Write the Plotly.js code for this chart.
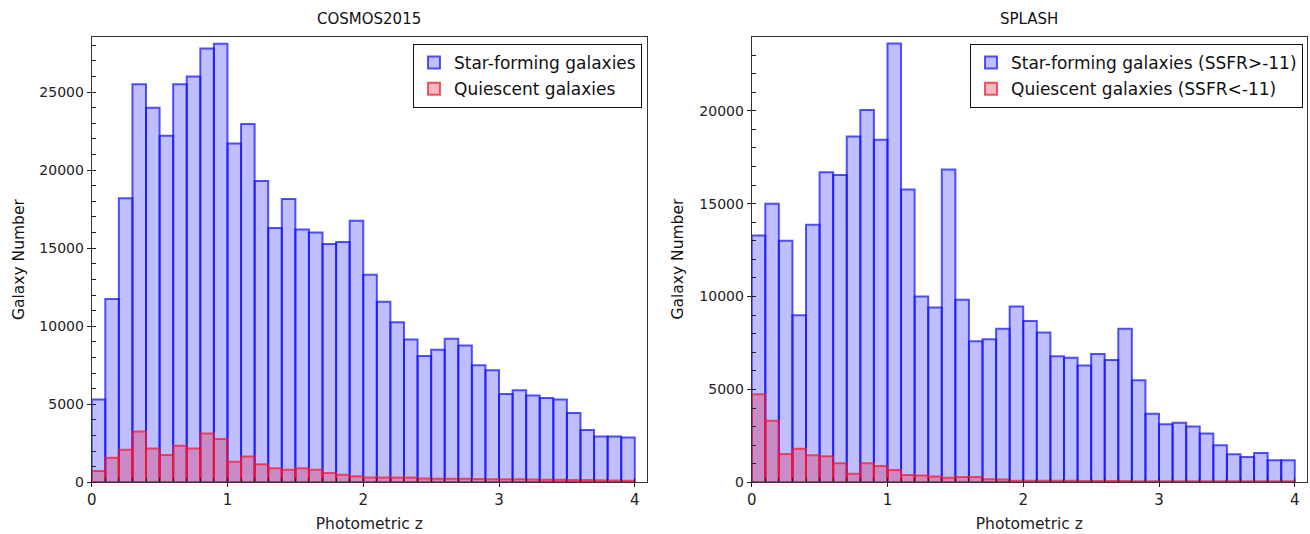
<!DOCTYPE html>
<html>
<head>
<meta charset="utf-8">
<script src="https://cdn.plot.ly/plotly-3.0.1.min.js"></script>
<style>html,body{margin:0;padding:0;background:#fff;}#chart{width:1310px;height:534px;}</style>
</head>
<body>
<div id="chart"></div>
<script>
// Histogram bins: photometric z, width 0.1, from 0 to 4
const binWidth = 0.1;
const nBins = 40;

// COSMOS2015
const cosmosStarForming = [5300, 11750, 18200, 25500, 24000, 22200, 25500, 26000, 27800, 28100,
  21700, 22950, 19300, 16300, 18150, 16200, 16000, 15270, 15400, 16760,
  13300, 11570, 10260, 9150, 8100, 8500, 9200, 8770, 7500, 7180,
  5650, 5900, 5560, 5400, 5300, 4440, 3350, 2930, 2930, 2870];
const cosmosQuiescent = [720, 1580, 2080, 3260, 2170, 1750, 2340, 2170, 3130, 2780,
  1310, 1660, 1160, 900, 810, 900, 810, 590, 480, 390,
  300, 300, 300, 300, 250, 230, 220, 220, 210, 200,
  190, 190, 180, 170, 170, 150, 140, 130, 120, 100];

// SPLASH
const splashStarForming = [13290, 15000, 13000, 8990, 13860, 16690, 16540, 18620, 20040, 18440,
  23620, 15770, 10000, 9410, 16840, 9830, 7590, 7700, 8270, 9470,
  8690, 8070, 6780, 6710, 6290, 6910, 6580, 8270, 5500, 3690,
  3130, 3200, 3000, 2630, 2000, 1510, 1360, 1580, 1190, 1190];
const splashQuiescent = [4740, 3310, 1530, 1800, 1450, 1400, 1030, 460, 1030, 880,
  660, 390, 370, 310, 240, 290, 290, 170, 150, 90,
  80, 80, 80, 80, 70, 70, 70, 70, 60, 60,
  60, 60, 60, 50, 50, 50, 50, 50, 50, 50];

const panelTitles = ["COSMOS2015", "SPLASH"];
const legendNames = [
  ["Star-forming galaxies", "Quiescent galaxies"],
  ["Star-forming galaxies (SSFR>-11)", "Quiescent galaxies (SSFR<-11)"]
];
const xTitle = "Photometric z";
const yTitle = "Galaxy Number";

const centers = Array.from({length: nBins}, (_, i) => +(i * binWidth + binWidth / 2).toFixed(3));

const FONT = "DejaVu Sans, Verdana, sans-serif";
const blueFill = "rgba(0,0,255,0.25)";
const blueLine = "rgba(20,20,255,0.72)";
const redFill = "rgba(230,0,40,0.27)";
const redLine = "rgba(255,20,40,0.72)";

function barTrace(y, name, fill, line, xa, ya, leg, grp) {
  return {
    type: "bar", x: centers, y: y, width: binWidth, name: name,
    xaxis: xa, yaxis: ya, legend: leg, legendgroup: grp,
    marker: {color: fill, line: {color: line, width: 2}},
    hoverinfo: "x+y+name"
  };
}

const data = [
  barTrace(cosmosStarForming, legendNames[0][0], blueFill, blueLine, "x", "y", "legend", "a"),
  barTrace(cosmosQuiescent, legendNames[0][1], redFill, redLine, "x", "y", "legend", "b"),
  barTrace(splashStarForming, legendNames[1][0], blueFill, blueLine, "x2", "y2", "legend2", "c"),
  barTrace(splashQuiescent, legendNames[1][1], redFill, redLine, "x2", "y2", "legend2", "d")
];

const W = 1310, H = 534;
const p1 = {l: 91.7, r: 647, t: 36.7, b: 482.3};
const p2 = {l: 751.7, r: 1307, t: 36.7, b: 482.3};
const ydom = [(H - p1.b) / H, (H - p1.t) / H];

function xAxis(dom, anchor) {
  return {
    domain: dom, anchor: anchor, range: [0, 4.09], dtick: 1, tick0: 0,
    ticks: "outside", ticklen: 4, tickcolor: "#222", tickwidth: 1,
    minor: {dtick: 0.1, tick0: 0, ticks: "inside", ticklen: 4, tickcolor: "#222", showgrid: false},
    showline: true, linecolor: "#333", linewidth: 1, mirror: true,
    showgrid: false, zeroline: false,
    tickfont: {family: FONT, size: 15, color: "#222"},
    title: {text: xTitle, font: {family: FONT, size: 15.5, color: "#222"}, standoff: 9},
    automargin: false, fixedrange: true
  };
}
function yAxis(anchor, top, dtick) {
  return {
    domain: ydom, anchor: anchor, range: [0, top], dtick: dtick, tick0: 0,
    tickformat: "d", exponentformat: "none",
    ticks: "outside", ticklen: 4, tickcolor: "#222", tickwidth: 1,
    minor: {dtick: 1000, tick0: 0, ticks: "inside", ticklen: 4, tickcolor: "#222", showgrid: false},
    showline: true, linecolor: "#333", linewidth: 1, mirror: true,
    showgrid: false, zeroline: false,
    tickfont: {family: FONT, size: 14, color: "#222"},
    automargin: false, fixedrange: true
  };
}

function legendBox(rightPx) {
  return {
    x: rightPx / W, xanchor: "right", xref: "paper",
    y: (H - 44) / H, yanchor: "top", yref: "paper",
    bgcolor: "#fff", bordercolor: "#111", borderwidth: 1,
    font: {family: FONT, size: 17, color: "#111"},
    itemwidth: 30, traceorder: "grouped", tracegroupgap: 1
  };
}

function textAnn(text, xPx, yPx, angle) {
  return {text: text, xref: "paper", yref: "paper", x: xPx / W, y: (H - yPx) / H,
    xanchor: "center", yanchor: "middle", showarrow: false, textangle: angle || 0,
    font: {family: FONT, size: angle ? 15.5 : 15, color: "#111"}};
}

const yMid = (p1.t + p1.b) / 2;
const layout = {
  width: W, height: H,
  margin: {l: 0, r: 0, t: 0, b: 0},
  paper_bgcolor: "#fff", plot_bgcolor: "#fff",
  barmode: "overlay", bargap: 0,
  showlegend: true,
  xaxis: xAxis([p1.l / W, p1.r / W], "y"),
  yaxis: yAxis("x", 28550, 5000),
  xaxis2: xAxis([p2.l / W, p2.r / W], "y2"),
  yaxis2: yAxis("x2", 23990, 5000),
  legend: legendBox(642),
  legend2: legendBox(1303),
  annotations: [
    textAnn(panelTitles[0], (p1.l + p1.r) / 2, 19),
    textAnn(panelTitles[1], (p2.l + p2.r) / 2, 19),
    textAnn(yTitle, 18.5, yMid, -90),
    textAnn(yTitle, 677, yMid, -90)
  ]
};

Plotly.newPlot("chart", data, layout, {staticPlot: true, displayModeBar: false});
</script>
</body>
</html>
